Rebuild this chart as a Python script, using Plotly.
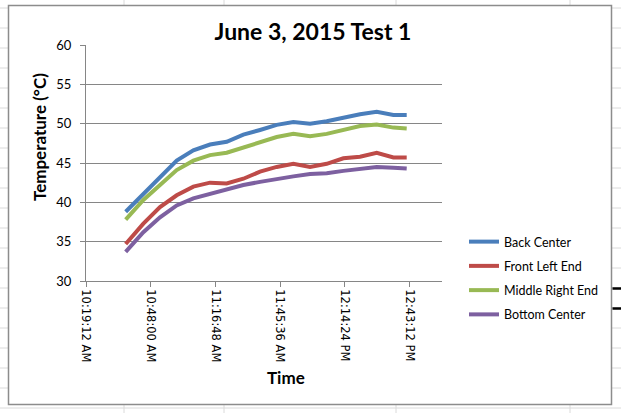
import plotly.graph_objects as go

times = ["10:36:51", "10:44:43", "10:52:08", "10:59:33", "11:06:58", "11:14:23",
         "11:21:48", "11:29:13", "11:36:38", "11:44:03", "11:51:28", "11:58:53",
         "12:06:18", "12:13:43", "12:21:08", "12:28:33", "12:35:58", "12:41:54"]
back_center = [38.8, 41.1, 43.2, 45.3, 46.6, 47.35, 47.7, 48.6, 49.2, 49.85, 50.2, 50.0,
               50.3, 50.8, 51.2, 51.5, 51.1, 51.1]
front_left_end = [34.7, 37.3, 39.4, 40.9, 42.0, 42.5, 42.4, 43.0, 43.9, 44.5, 44.9, 44.5,
                  44.9, 45.6, 45.8, 46.3, 45.7, 45.7]
middle_right_end = [37.8, 40.3, 42.2, 44.1, 45.3, 46.0, 46.3, 47.0, 47.7, 48.3, 48.7, 48.4,
                    48.7, 49.2, 49.7, 49.9, 49.5, 49.4]
bottom_center = [33.7, 36.2, 38.1, 39.6, 40.5, 41.1, 41.6, 42.2, 42.6, 43.0, 43.3, 43.6,
                 43.7, 44.0, 44.3, 44.5, 44.4, 44.3]

series_names = ["Back Center", "Front Left End", "Middle Right End", "Bottom Center"]
series_values = [back_center, front_left_end, middle_right_end, bottom_center]
series_colors = ["#4A7EBB", "#BE4B48", "#98B954", "#7D60A0"]

date = "2015-06-03 "
x_vals = [date + t for t in times]

W, H = 621, 413
L, R, T, B = 86, 442, 45, 281  # plot area in pixels


def px(x):
    return (x - L) / (R - L)


def py(y):
    return (B - y) / (B - T)


fig = go.Figure()
for name, vals, col in zip(series_names, series_values, series_colors):
    fig.add_trace(go.Scatter(x=x_vals, y=vals, mode="lines", name=name,
                             legendgroup=name,
                             line=dict(color=col, width=4)))

shapes = []
# spreadsheet gridlines
for k in range(21):
    yy = 8 + 20 * k
    shapes.append(dict(type="line", xref="paper", yref="paper", layer="below",
                       x0=px(0), x1=px(W), y0=py(yy), y1=py(yy),
                       line=dict(color="#DADADA", width=1)))
for xx in [124, 224, 396, 570]:
    shapes.append(dict(type="line", xref="paper", yref="paper", layer="below",
                       x0=px(xx), x1=px(xx), y0=py(0), y1=py(H),
                       line=dict(color="#DADADA", width=1)))
# chart frame
shapes.append(dict(type="rect", xref="paper", yref="paper", layer="below",
                   x0=px(8.5), x1=px(611.5), y0=py(5.5), y1=py(404.5),
                   fillcolor="white", line=dict(color="#8C8C8C", width=1.5)))
# black marks at right edge
for yy in [288.5, 308.5]:
    shapes.append(dict(type="line", xref="paper", yref="paper", layer="below",
                       x0=px(612.5), x1=px(W), y0=py(yy), y1=py(yy),
                       line=dict(color="#000000", width=2.5)))

annotations = [
    dict(text="<b>Temperature (°C)</b>", textangle=-90, xref="paper", yref="paper",
         x=px(39), y=py(137), showarrow=False, xanchor="center", yanchor="middle",
         font=dict(family="Lato", size=17, color="#000000")),
    dict(text="<b>Time</b>", xref="paper", yref="paper",
         x=px(286), y=py(377), showarrow=False, xanchor="center", yanchor="middle",
         font=dict(family="Lato", size=17, color="#000000")),
]

fig.update_layout(
    width=W, height=H,
    margin=dict(l=L, r=W - R, t=T, b=H - B, pad=0),
    paper_bgcolor="white",
    plot_bgcolor="rgba(0,0,0,0)",
    title=dict(text="<b>June 3, 2015 Test 1</b>", x=px(313), xref="paper",
               y=1 - 32 / H, yref="container", xanchor="center", yanchor="middle",
               font=dict(family="Lato", size=23, color="#000000")),
    showlegend=True,
    legend=dict(x=px(464), y=py(227), xanchor="left", yanchor="top",
                font=dict(family="Lato", size=12.5, color="#000000"),
                tracegroupgap=5, bgcolor="rgba(0,0,0,0)"),
    shapes=shapes,
    annotations=annotations,
    xaxis=dict(type="date",
               range=[date + "10:19:12", date + "12:57:36"],
               tickmode="linear", tick0=date + "10:19:12", dtick=1728000,
               tickformat="%-I:%M:%S %p", tickangle=90,
               showgrid=False, zeroline=False,
               showline=True, linecolor="#868686", linewidth=1,
               ticks="outside", ticklen=5, tickcolor="#868686",
               tickfont=dict(family="DejaVu Sans", size=11.5, color="#000000")),
    yaxis=dict(range=[30, 60], dtick=5, tick0=30,
               showgrid=True, gridcolor="#868686", gridwidth=1,
               zeroline=False,
               showline=True, linecolor="#868686", linewidth=1,
               ticks="outside", ticklen=5, tickcolor="#868686",
               ticklabelstandoff=6,
               tickfont=dict(family="Lato", size=13, color="#000000")),
)

fig.write_html("out.html")
